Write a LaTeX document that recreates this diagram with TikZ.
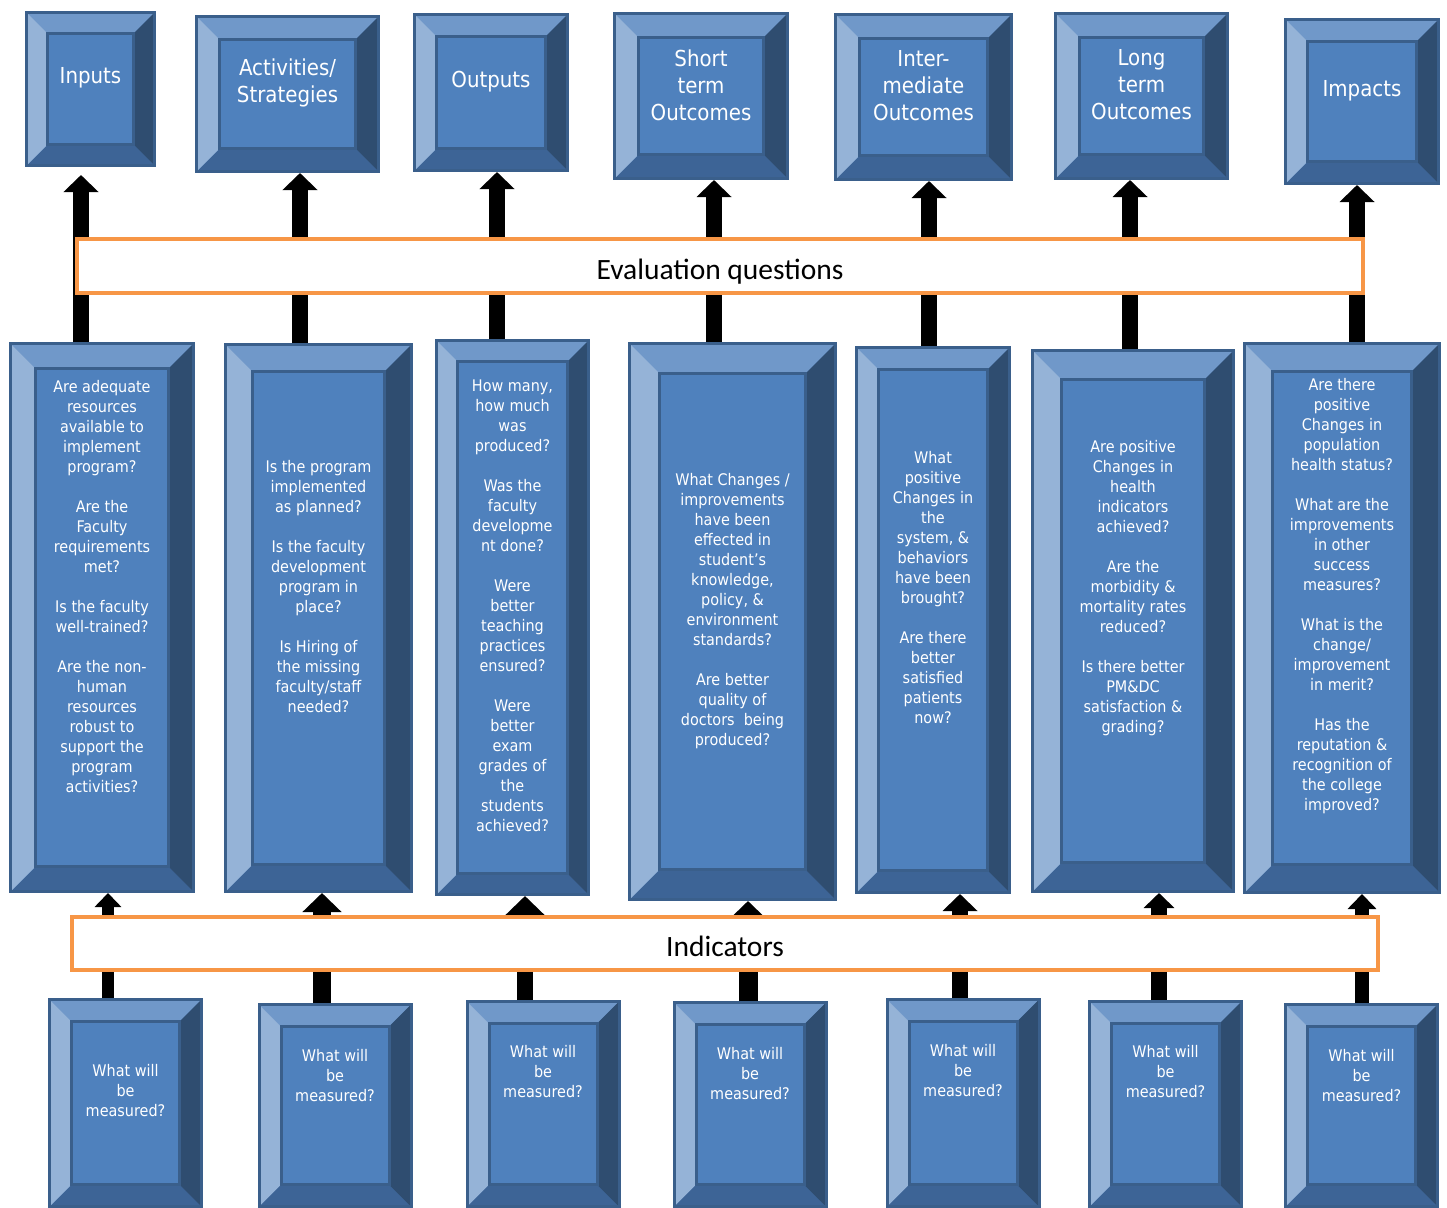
\documentclass[tikz,border=0pt]{standalone}
\usepackage{fontspec}
\setmainfont{DejaVu Sans Condensed}
\newfontfamily\barfont{Carlito}
\usetikzlibrary{arrows.meta}
\definecolor{faceblue}{RGB}{79,129,189}
\definecolor{edgeblue}{RGB}{58,95,139}
\definecolor{bevtop}{RGB}{112,152,201}
\definecolor{bevleft}{RGB}{149,179,215}
\definecolor{bevright}{RGB}{47,77,112}
\definecolor{bevbottom}{RGB}{61,100,150}
\definecolor{barorange}{RGB}{247,150,70}
\tikzset{bevel/.store in=\bevsize, bevel=22pt}

\begin{document}
\begin{tikzpicture}[x=1pt,y=-1pt,
    bevelbox/.style={rectangle,fill=faceblue,draw=edgeblue,line width=3pt,inner sep=0pt,
      path picture={
        \fill[bevtop] (path picture bounding box.north west) -- (path picture bounding box.north east)
          -- ([xshift=-\bevsize,yshift=-\bevsize]path picture bounding box.north east)
          -- ([xshift=\bevsize,yshift=-\bevsize]path picture bounding box.north west) -- cycle;
        \fill[bevbottom] (path picture bounding box.south west) -- (path picture bounding box.south east)
          -- ([xshift=-\bevsize,yshift=\bevsize]path picture bounding box.south east)
          -- ([xshift=\bevsize,yshift=\bevsize]path picture bounding box.south west) -- cycle;
        \fill[bevleft] (path picture bounding box.north west) -- (path picture bounding box.south west)
          -- ([xshift=\bevsize,yshift=\bevsize]path picture bounding box.south west)
          -- ([xshift=\bevsize,yshift=-\bevsize]path picture bounding box.north west) -- cycle;
        \fill[bevright] (path picture bounding box.north east) -- (path picture bounding box.south east)
          -- ([xshift=-\bevsize,yshift=\bevsize]path picture bounding box.south east)
          -- ([xshift=-\bevsize,yshift=-\bevsize]path picture bounding box.north east) -- cycle;
        \draw[edgeblue,line width=3pt] ([xshift=\bevsize,yshift=\bevsize]path picture bounding box.south west)
          rectangle ([xshift=-\bevsize,yshift=-\bevsize]path picture bounding box.north east);
      }},
    toptext/.style={text=white,align=center,font=\fontsize{22}{27}\selectfont},
    qtext/.style={text=white,align=center,font=\fontsize{16}{20}\selectfont},
    topbox/.style={bevelbox,label={[toptext,yshift=11pt]center:{#1}}},
    measurebox/.style={bevelbox,minimum width=152pt,label={[qtext,yshift=#1]center:{What will\\be\\measured?}}},
    stagebar/.style={rectangle,draw=barorange,line width=4pt,fill=white,inner sep=0pt,
      text height=26pt,text depth=0pt,font=\barfont\fontsize{29.5}{32}\selectfont},
    uparrow/.style={line width=16pt,-{Triangle[width=34pt,length=17pt]}}
  ]
  \useasboundingbox (0,0) rectangle (1447,1207);

  % outcome chain
  \node[topbox={Inputs},bevel=21pt,minimum width=128pt,minimum height=153pt] (t1) at (90.5,89) {};
  \node[topbox={Activities/\\Strategies},bevel=23pt,minimum width=182pt,minimum height=155pt] (t2) at (287.5,94) {};
  \node[topbox={Outputs},bevel=22pt,minimum width=153pt,minimum height=156pt] (t3) at (491,92.5) {};
  \node[topbox={Short\\term\\Outcomes},bevel=24pt,minimum width=173pt,minimum height=165pt] (t4) at (701,96) {};
  \node[topbox={Inter-\\mediate\\Outcomes},bevel=24pt,minimum width=176pt,minimum height=165pt] (t5) at (923.5,97) {};
  \node[topbox={Long\\term\\Outcomes},bevel=24pt,minimum width=172pt,minimum height=165pt] (t6) at (1141.5,96) {};
  \node[topbox={Impacts},bevel=22pt,minimum width=153pt,minimum height=164pt] (t7) at (1362,101.5) {};

  % evaluation questions
  \node[bevelbox,bevel=25pt,minimum width=183pt,minimum height=548pt,
    label={[qtext,yshift=31pt]center:{Are adequate\\resources\\available to\\implement\\program?\\[20pt]Are the\\Faculty\\requirements\\met?\\[20pt]Is the faculty\\well-trained?\\[20pt]Are the non-\\human\\resources\\robust to\\support the\\program\\activities?}}] (q1) at (102,617.5) {};
  \node[bevelbox,bevel=27pt,minimum width=186pt,minimum height=547pt,
    label={[qtext,yshift=31.5pt]center:{Is the program\\implemented\\as planned?\\[20pt]Is the faculty\\development\\program in\\place?\\[20pt]Is Hiring of\\the missing\\faculty/staff\\needed?}}] (q2) at (318.5,618) {};
  \node[bevelbox,bevel=21pt,minimum width=152pt,minimum height=554pt,
    label={[qtext,yshift=11.5pt]center:{How many,\\how much\\was\\produced?\\[20pt]Was the\\faculty\\developme\\nt done?\\[20pt]Were\\better\\teaching\\practices\\ensured?\\[20pt]Were\\better\\exam\\grades of\\the\\students\\achieved?}}] (q3) at (512.5,617.5) {};
  \node[bevelbox,bevel=30pt,minimum width=206pt,minimum height=556pt,
    label={[qtext,yshift=10.5pt]center:{What Changes /\\improvements\\have been\\effected in\\student’s\\knowledge,\\policy, \&\\environment\\standards?\\[20pt]Are better\\quality of\\doctors\ \ being\\produced?}}] (q4) at (732.5,621.5) {};
  \node[bevelbox,bevel=22pt,minimum width=153pt,minimum height=545pt,
    label={[qtext,yshift=32pt]center:{What\\positive\\Changes in\\the\\system, \&\\behaviors\\have been\\brought?\\[20pt]Are there\\better\\satisfied\\patients\\now?}}] (q5) at (933,620) {};
  \node[bevelbox,bevel=29pt,minimum width=201pt,minimum height=541pt,
    label={[qtext,yshift=32.5pt]center:{Are positive\\Changes in\\health\\indicators\\achieved?\\[20pt]Are the\\morbidity \&\\mortality rates\\reduced?\\[20pt]Is there better\\PM\&DC\\satisfaction \&\\grading?}}] (q6) at (1133,621) {};
  \node[bevelbox,bevel=28pt,minimum width=195pt,minimum height=549pt,
    label={[qtext,yshift=21.5pt]center:{Are there\\positive\\Changes in\\population\\health status?\\[20pt]What are the\\improvements\\in other\\success\\measures?\\[20pt]What is the\\change/\\improvement\\in merit?\\[20pt]Has the\\reputation \&\\recognition of\\the college\\improved?}}] (q7) at (1342,618) {};

  % indicators
  \node[measurebox=12pt,minimum height=207pt] (b1) at (125.5,1103) {};
  \node[measurebox=30pt,minimum height=202pt] (b2) at (335,1105.5) {};
  \node[measurebox=32pt,minimum height=205pt] (b3) at (543,1104) {};
  \node[measurebox=31pt,minimum height=204pt] (b4) at (750,1104.5) {};
  \node[measurebox=32pt,minimum height=207pt] (b5) at (963,1103) {};
  \node[measurebox=32pt,minimum height=205pt] (b6) at (1165.5,1104) {};
  \node[measurebox=30pt,minimum height=202pt] (b7) at (1361.5,1105.5) {};

  % arrows up to the chain
  \draw[uparrow,shorten >=8pt] (q1.north -| 81,0) -- (t1.south -| 81,0);
  \draw[uparrow] (q2.north -| 300,0) -- (t2.south -| 300,0);
  \draw[uparrow] (q3.north -| 497,0) -- (t3.south -| 497,0);
  \draw[uparrow] (q4.north -| 714,0) -- (t4.south -| 714,0);
  \draw[uparrow] (q5.north -| 929,0) -- (t5.south -| 929,0);
  \draw[uparrow] (q6.north -| 1130,0) -- (t6.south -| 1130,0);
  \draw[uparrow] (q7.north -| 1357,0) -- (t7.south -| 1357,0);

  % arrows up to the questions
  \draw[uparrow,line width=12pt,-{Triangle[width=26pt,length=14pt]}] (b1.north -| 108,0) -- (q1.south -| 108,0);
  \draw[uparrow,line width=18pt,-{Triangle[width=38pt,length=19pt]}] (b2.north -| 322,0) -- (q2.south -| 322,0);
  \draw[uparrow,-{Triangle[width=38pt,length=19pt]}] (b3.north -| 525,0) -- (q3.south -| 525,0);
  \draw[uparrow,line width=19pt,-{Triangle[width=30pt,length=15pt]}] (b4.north -| 748,0) -- (q4.south -| 748,0);
  \draw[uparrow] (b5.north -| 960,0) -- (q5.south -| 960,0);
  \draw[uparrow,-{Triangle[width=30pt,length=15pt]}] (b6.north -| 1159,0) -- (q6.south -| 1159,0);
  \draw[uparrow,line width=14pt,-{Triangle[width=28pt,length=15pt]}] (b7.north -| 1362,0) -- (q7.south -| 1362,0);

  % bars
  \node[stagebar,minimum width=1286pt,minimum height=54pt] (evalq) at (720,266) {Evaluation questions};
  \node[stagebar,minimum width=1306pt,minimum height=53pt] (indic) at (725,943.5) {Indicators};
\end{tikzpicture}
\end{document}
